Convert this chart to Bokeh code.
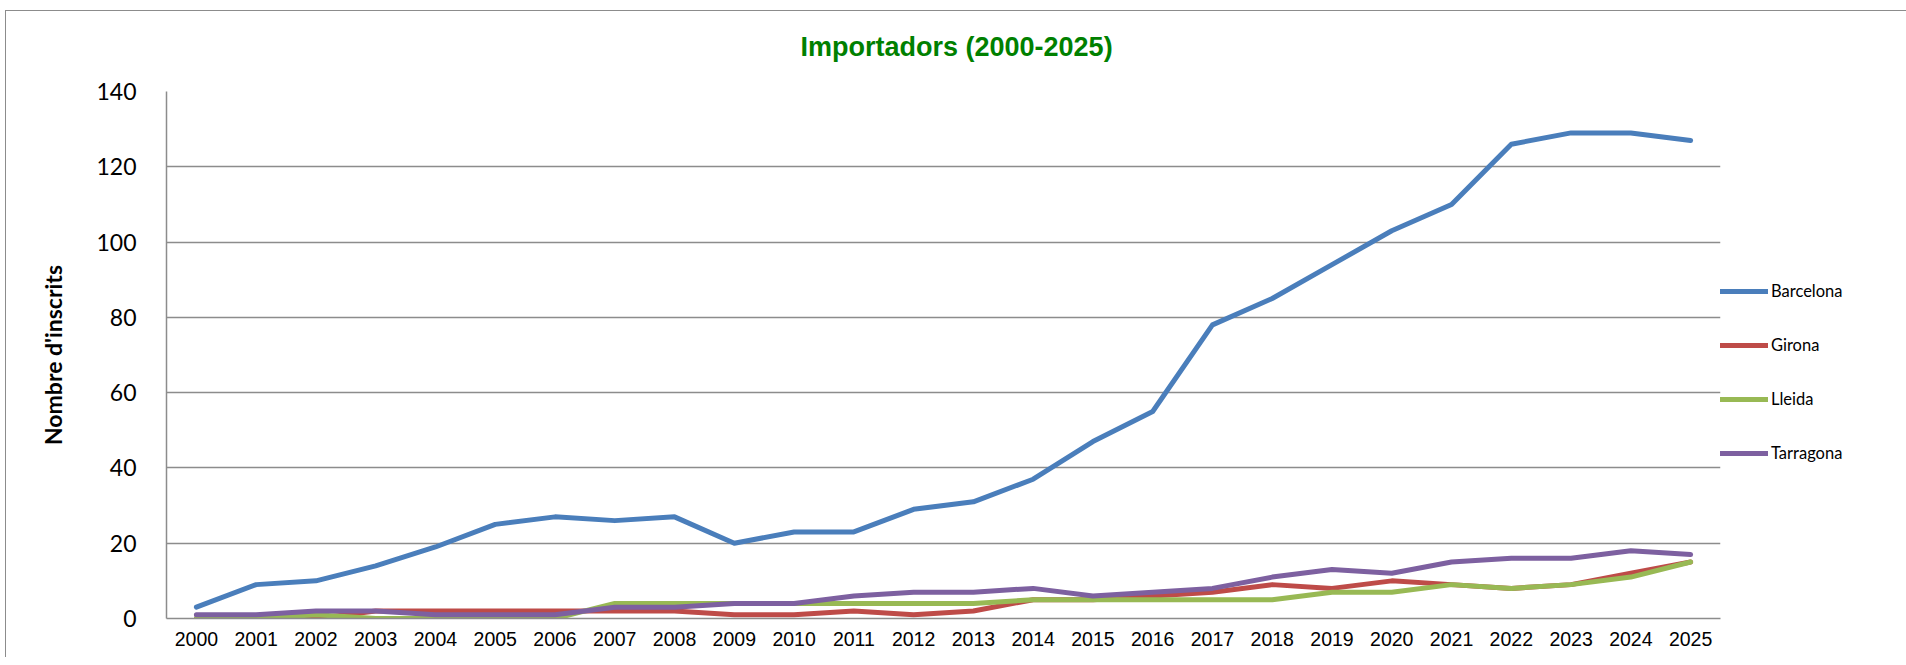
from bokeh.plotting import figure
from bokeh.models import FixedTicker, Legend, LegendItem, Range1d, Title
from bokeh.embed import file_html
from bokeh.resources import INLINE

years = [str(y) for y in range(2000, 2026)]
barcelona = [3, 9, 10, 14, 19, 25, 27, 26, 27, 20, 23, 23, 29, 31, 37, 47, 55, 78, 85, 94, 103, 110, 126, 129, 129, 127]
girona = [0, 0, 0, 2, 2, 2, 2, 2, 2, 1, 1, 2, 1, 2, 5, 5, 6, 7, 9, 8, 10, 9, 8, 9, 12, 15]
lleida = [0, 0, 1, 0, 0, 0, 0, 4, 4, 4, 4, 4, 4, 4, 5, 5, 5, 5, 5, 7, 7, 9, 8, 9, 11, 15]
tarragona = [1, 1, 2, 2, 1, 1, 1, 3, 3, 4, 4, 6, 7, 7, 8, 6, 7, 8, 11, 13, 12, 15, 16, 16, 18, 17]
series_names = ["Barcelona", "Girona", "Lleida", "Tarragona"]
series_colors = ["#4A7EBB", "#BE4B48", "#98B954", "#7D60A0"]
y_ticks = [0, 20, 40, 60, 80, 100, 120, 140]
title_text = "Importadors (2000-2025)"
y_label = "Nombre d'inscrits"

xs = list(range(len(years)))

p = figure(
    frame_width=1554, frame_height=527,
    min_border_left=166, min_border_top=91, min_border_bottom=39, min_border_right=160,
    output_backend="svg", toolbar_location=None,
    x_range=Range1d(-0.5, len(years) - 0.5), y_range=Range1d(0, 140),
)
# chart-area border (top and left edges) drawn as CSS background behind a transparent border fill
p.styles = {
    "background": "linear-gradient(#8c8c8c, #8c8c8c) 5px 10px / 100% 1px no-repeat, "
                  "linear-gradient(#8c8c8c, #8c8c8c) 5px 10px / 1px 100% no-repeat, white",
}
p.outline_line_color = None
p.background_fill_color = "white"
p.border_fill_alpha = 0

t = Title(text=title_text, align="left", text_font="Liberation Sans",
          text_font_size="27px", text_font_style="bold", text_color="#008000",
          offset=634, standoff=59)
p.add_layout(t, "above")

# axes
p.xaxis.ticker = FixedTicker(ticks=xs)
p.xaxis.major_label_overrides = {i: y for i, y in enumerate(years)}
p.xaxis.major_label_text_font = "Liberation Sans"
p.xaxis.major_label_text_font_size = "19.5px"
p.xaxis.major_label_text_color = "black"
p.xaxis.major_tick_line_color = None
p.xaxis.minor_tick_line_color = None
p.xaxis.axis_line_color = "#8c8c8c"
p.xaxis.axis_line_width = 1.5
p.xaxis.major_label_standoff = 7

p.yaxis.ticker = FixedTicker(ticks=y_ticks)
p.yaxis.major_label_text_font = "Lato"
p.yaxis.major_label_text_font_size = "23px"
p.yaxis.major_label_text_color = "black"
p.yaxis.major_tick_line_color = None
p.yaxis.minor_tick_line_color = None
p.yaxis.axis_line_color = "#8c8c8c"
p.yaxis.axis_line_width = 1.5
p.yaxis.major_label_standoff = 24
p.yaxis.axis_label = y_label
p.yaxis.axis_label_text_font = "Lato"
p.yaxis.axis_label_text_font_size = "23px"
p.yaxis.axis_label_text_font_style = "bold"
p.yaxis.axis_label_text_color = "black"
p.yaxis.axis_label_standoff = 26

p.xgrid.grid_line_color = None
p.ygrid.grid_line_color = "#8c8c8c"
p.ygrid.grid_line_width = 1.5
p.ygrid.ticker = FixedTicker(ticks=y_ticks)

renderers = []
for vals, c in zip([barcelona, girona, lleida, tarragona], series_colors):
    r = p.line(xs, vals, line_color=c, line_width=5, line_cap="round", line_join="round")
    renderers.append(r)

legend = Legend(
    items=[LegendItem(label=n, renderers=[r]) for n, r in zip(series_names, renderers)],
    location=(0, 155),
    orientation="vertical",
    glyph_width=48, glyph_height=20, label_height=20, spacing=34,
    label_standoff=3, padding=0, margin=0,
    label_text_font="Lato", label_text_font_size="16.5px", label_text_color="black",
    border_line_color=None, background_fill_alpha=0,
)
p.add_layout(legend, "right")

open("out.html", "w").write(file_html(p, INLINE))
